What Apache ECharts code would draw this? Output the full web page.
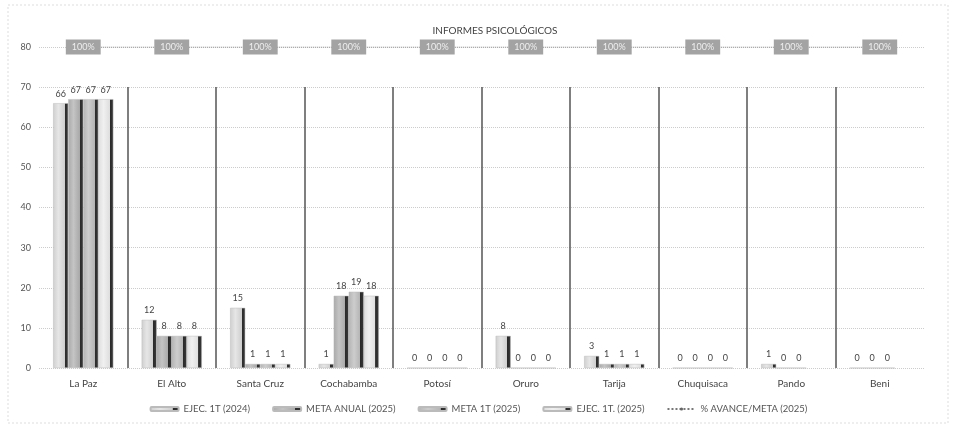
<!DOCTYPE html>
<html>
<head>
<meta charset="utf-8">
<script src="https://cdn.jsdelivr.net/npm/echarts@6/dist/echarts.min.js"></script>
<style>html,body{margin:0;padding:0;background:#fff}#c{width:957px;height:429px}</style>
</head>
<body>
<div id="c"></div>
<script>
var categories = ['La Paz','El Alto','Santa Cruz','Cochabamba','Potosí','Oruro','Tarija','Chuquisaca','Pando','Beni'];
var ejec2024 = [66,12,15,1,0,8,3,0,1,0];
var metaAnual2025 = [67,8,1,18,0,0,1,0,0,0];
var meta1T2025 = [67,8,1,19,0,0,1,0,0,0];
var ejec1T2025 = [67,8,1,18,0,0,1,0,null,null];
var avance = [100,100,100,100,100,100,100,100,100,100];
var yTicks = [0,10,20,30,40,50,60,70,80];

var FONT = 'Lato, "DejaVu Sans", sans-serif';
function grad(base, hi) {
  return new echarts.graphic.LinearGradient(0,0,1,0,[
    {offset:0,color:base},{offset:0.35,color:hi},{offset:0.76,color:base},
    {offset:0.78,color:'#2a2a2a'},{offset:1,color:'#3a3a3a'}]);
}
var lbl = {show:true,position:'top',distance:5,color:'#444',fontSize:9,fontFamily:FONT};
function barSeries(name, data, base, hi) {
  return {name:name,type:'bar',data:data,xAxisIndex:0,yAxisIndex:0,
    barGap:'0%',barCategoryGap:'32%',
    itemStyle:{color:grad(base,hi),borderColor:'#bbb',borderWidth:0.5},
    label:lbl};
}
var sepColors = ['rgba(0,0,0,0)'];
for (var i = 1; i < categories.length; i++) sepColors.push('#555');
var chart = echarts.init(document.getElementById('c'));
chart.setOption({
  backgroundColor:'#fff',
  animation:false,
  title:{text:'INFORMES PSICOLÓGICOS',left:490,textAlign:'center',top:21,
    textStyle:{fontSize:10,fontWeight:'normal',color:'#444',fontFamily:FONT}},
  graphic:[{type:'rect',shape:{x:8,y:5,width:940,height:418},
    style:{fill:'none',stroke:'#ddd',lineWidth:1,lineDash:[2,2]}}],
  legend:{bottom:10,left:'center',itemWidth:28,itemHeight:4,itemGap:22,
    textStyle:{fontSize:9.5,color:'#555',fontFamily:FONT},
    data:['EJEC. 1T (2024)','META ANUAL (2025)','META 1T (2025)','EJEC. 1T. (2025)','% AVANCE/META (2025)']},
  grid:[{left:39,right:33,top:47,bottom:61},
        {left:39,right:33,top:87,bottom:61}],
  xAxis:[
    {type:'category',data:categories,gridIndex:0,axisLine:{show:false},axisTick:{show:false},
      axisLabel:{color:'#444',fontSize:10,margin:11,interval:0,fontFamily:FONT}},
    {type:'category',data:categories,gridIndex:1,axisLine:{show:false},axisTick:{show:false,interval:0},
      axisLabel:{show:false,interval:0},
      splitLine:{show:true,interval:0,lineStyle:{width:1.5,color:sepColors}}}
  ],
  yAxis:[
    {type:'value',gridIndex:0,min:yTicks[0],max:yTicks[yTicks.length-1],interval:10,
      axisLine:{show:false},axisTick:{show:false},
      axisLabel:{color:'#555',fontSize:9,margin:8,fontFamily:FONT},
      splitLine:{lineStyle:{color:'#ccc',type:'dotted'}}},
    {type:'value',gridIndex:0,min:0,max:100,show:false,splitLine:{show:false}},
    {type:'value',gridIndex:1,min:0,max:70,show:false,splitLine:{show:false}}
  ],
  series:[
    barSeries('EJEC. 1T (2024)',ejec2024,'#cfcfcf','#e6e6e6'),
    barSeries('META ANUAL (2025)',metaAnual2025,'#a9a9a9','#c4c4c4'),
    barSeries('META 1T (2025)',meta1T2025,'#b4b4b4','#cdcdcd'),
    barSeries('EJEC. 1T. (2025)',ejec1T2025,'#dedede','#f0f0f0'),
    {name:'% AVANCE/META (2025)',type:'line',data:avance,xAxisIndex:0,yAxisIndex:1,
      symbol:'circle',symbolSize:5,
      lineStyle:{color:'#777',width:1,type:'dotted'},itemStyle:{color:'#666'},
      label:{show:true,position:'inside',formatter:function(p){return p.value+'%';},
        backgroundColor:'#a3a3a3',color:'#eeeeee',fontSize:9,padding:[3,6],fontFamily:FONT}},
    {type:'bar',data:[],xAxisIndex:1,yAxisIndex:2,silent:true}
  ]
});
</script>
</body>
</html>
